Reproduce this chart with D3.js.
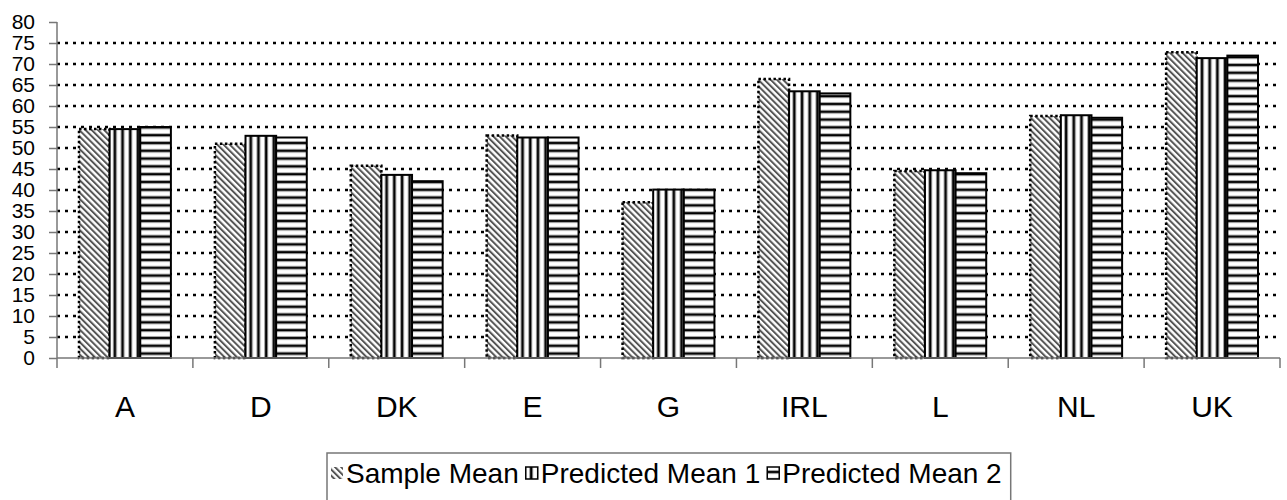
<!DOCTYPE html>
<html>
<head>
<meta charset="utf-8">
<script src="https://cdn.jsdelivr.net/npm/d3@7"></script>
<style>
  body { margin: 0; background: #fff; }
  svg text { font-family: "Liberation Sans", Arial, sans-serif; fill: #000; }
</style>
</head>
<body>
<div id="chart"></div>
<script>
var categories = ["A", "D", "DK", "E", "G", "IRL", "L", "NL", "UK"];
var seriesNames = ["Sample Mean", "Predicted Mean 1", "Predicted Mean 2"];
var sampleMean     = [54.5, 51.0, 45.8, 53.0, 37.1, 66.4, 44.5, 57.6, 72.8];
var predictedMean1 = [54.5, 52.9, 43.6, 52.5, 40.1, 63.5, 44.7, 57.8, 71.4];
var predictedMean2 = [55.0, 52.5, 42.1, 52.5, 40.1, 63.0, 44.0, 57.2, 72.0];
var yTicks = [0, 5, 10, 15, 20, 25, 30, 35, 40, 45, 50, 55, 60, 65, 70, 75, 80];
var gridTicks = [5, 10, 15, 20, 25, 30, 35, 40, 45, 50, 55, 60, 65, 70, 75];

function barChart(id) {
  const W = 1287, H = 500,
        margin = {top: 22, right: 7, bottom: 142, left: 57},
        width = W - margin.left - margin.right,
        height = H - margin.top - margin.bottom;

  var root = d3.select(id).append("svg")
    .attr("width", W)
    .attr("height", H);

  // fill patterns, as in the old office chart
  var defs = root.append("defs");
  var p0 = defs.append("pattern").attr("id", "pat0")
    .attr("patternUnits", "userSpaceOnUse")
    .attr("width", 4.4).attr("height", 4.4)
    .attr("patternTransform", "rotate(-45)");
  p0.append("rect").attr("width", 4.4).attr("height", 4.4).attr("fill", "#fff");
  p0.append("rect").attr("x", 0).attr("width", 2).attr("height", 4.4).attr("fill", "#555");

  var p1 = defs.append("pattern").attr("id", "pat1")
    .attr("patternUnits", "userSpaceOnUse")
    .attr("width", 7.7).attr("height", 10);
  p1.append("rect").attr("width", 7.7).attr("height", 10).attr("fill", "#fff");
  p1.append("rect").attr("x", 2).attr("width", 4).attr("height", 10).attr("fill", "#999");
  p1.append("rect").attr("x", 3).attr("width", 2).attr("height", 10).attr("fill", "#000");

  var p2 = defs.append("pattern").attr("id", "pat2")
    .attr("patternUnits", "userSpaceOnUse")
    .attr("width", 10).attr("height", 7.8);
  p2.append("rect").attr("width", 10).attr("height", 7.8).attr("fill", "#fff");
  p2.append("rect").attr("y", 2).attr("width", 10).attr("height", 4).attr("fill", "#aaa");
  p2.append("rect").attr("y", 3).attr("width", 10).attr("height", 2).attr("fill", "#000");

  var svg = root.append("g")
    .attr("transform", "translate(" + margin.left + "," + margin.top + ")");

  var x = d3.scaleBand().domain(categories).range([0, width]);
  var x1 = d3.scaleBand().domain(seriesNames)
    .range([22, x.bandwidth() - 22]);
  var y = d3.scaleLinear().domain([0, 80]).range([height, 0]);

  // dotted grid
  svg.append("g").attr("class", "grid")
    .selectAll("line").data(gridTicks).join("line")
    .attr("x1", 0).attr("x2", width)
    .attr("y1", function(d) {return y(d);})
    .attr("y2", function(d) {return y(d);})
    .style("stroke", "#000")
    .style("stroke-width", 2.5)
    .style("stroke-dasharray", "3,5");

  var rows = categories.map(function(c, i) {
    return [sampleMean[i], predictedMean1[i], predictedMean2[i]].map(function(v, j) {
      return {cat: c, s: seriesNames[j], j: j, v: v};
    });
  });

  var groups = svg.append("g").selectAll("g").data(rows).join("g")
    .attr("transform", function(d) {return "translate(" + x(d[0].cat) + ",0)";});

  groups.selectAll("rect.bg").data(function(d) {return d;}).join("rect")
    .attr("class", "bg")
    .attr("x", function(d) {return x1(d.s);})
    .attr("y", function(d) {return y(d.v);})
    .attr("width", x1.bandwidth())
    .attr("height", function(d) {return height - y(d.v);})
    .style("fill", "#fff");

  groups.selectAll("rect.bar").data(function(d) {return d;}).join("rect")
    .attr("class", "bar")
    .attr("x", function(d) {return x1(d.s);})
    .attr("y", function(d) {return y(d.v);})
    .attr("width", x1.bandwidth())
    .attr("height", function(d) {return height - y(d.v);})
    .style("fill", function(d) {return "url(#pat" + d.j + ")";})
    .style("stroke", "#000")
    .style("stroke-width", function(d) {return d.j == 0 ? 2.5 : 2;})
    .style("stroke-dasharray", function(d) {return d.j == 0 ? "2.5,2.5" : null;});

  // axes
  var yAxis = d3.axisLeft(y).tickValues(yTicks).tickSize(8).tickPadding(14);
  var gy = svg.append("g").attr("class", "axis axis-y").call(yAxis);
  gy.select(".domain").attr("d", "M0," + height + "V0").style("stroke", "#777").style("stroke-width", 1.5);
  gy.selectAll(".tick line").style("stroke", "#777").style("stroke-width", 1.5);
  gy.selectAll(".tick text").style("font-size", "21px").attr("dy", "0.3em");

  var gx = svg.append("g").attr("class", "axis axis-x")
    .attr("transform", "translate(0," + height + ")");
  gx.append("line").attr("x1", 0).attr("x2", width)
    .style("stroke", "#777").style("stroke-width", 1.5);
  gx.selectAll("line.tk").data(d3.range(categories.length + 1)).join("line")
    .attr("class", "tk")
    .attr("x1", function(i) {return i * x.bandwidth();})
    .attr("x2", function(i) {return i * x.bandwidth();})
    .attr("y1", 0).attr("y2", 10)
    .style("stroke", "#777").style("stroke-width", 1.5);
  gx.selectAll("text").data(categories).join("text")
    .attr("x", function(d) {return x(d) + x.bandwidth() / 2;})
    .attr("y", 59)
    .attr("text-anchor", "middle")
    .style("font-size", "30px")
    .text(function(d) {return d;});

  // legend
  var leg = root.append("g").attr("class", "legend")
    .attr("transform", "translate(327,0)");
  var box = leg.append("rect")
    .attr("x", 0).attr("y", 453).attr("height", 50)
    .style("fill", "#fff").style("stroke", "#777").style("stroke-width", 1.5);
  var cx = 0;
  seriesNames.forEach(function(name, j) {
    leg.append("rect")
      .attr("x", cx + 4).attr("y", 467).attr("width", 12).attr("height", 12)
      .style("fill", "url(#pat" + j + ")")
      .style("stroke", j == 0 ? "none" : "#000").style("stroke-width", 1.5);
    var t = leg.append("text")
      .attr("x", cx + 19).attr("y", 483)
      .style("font-size", "28px")
      .text(name);
    cx += 19 + t.node().getComputedTextLength() + 3;
  });
  box.attr("width", cx + 6);
}

barChart("#chart");
</script>
</body>
</html>
